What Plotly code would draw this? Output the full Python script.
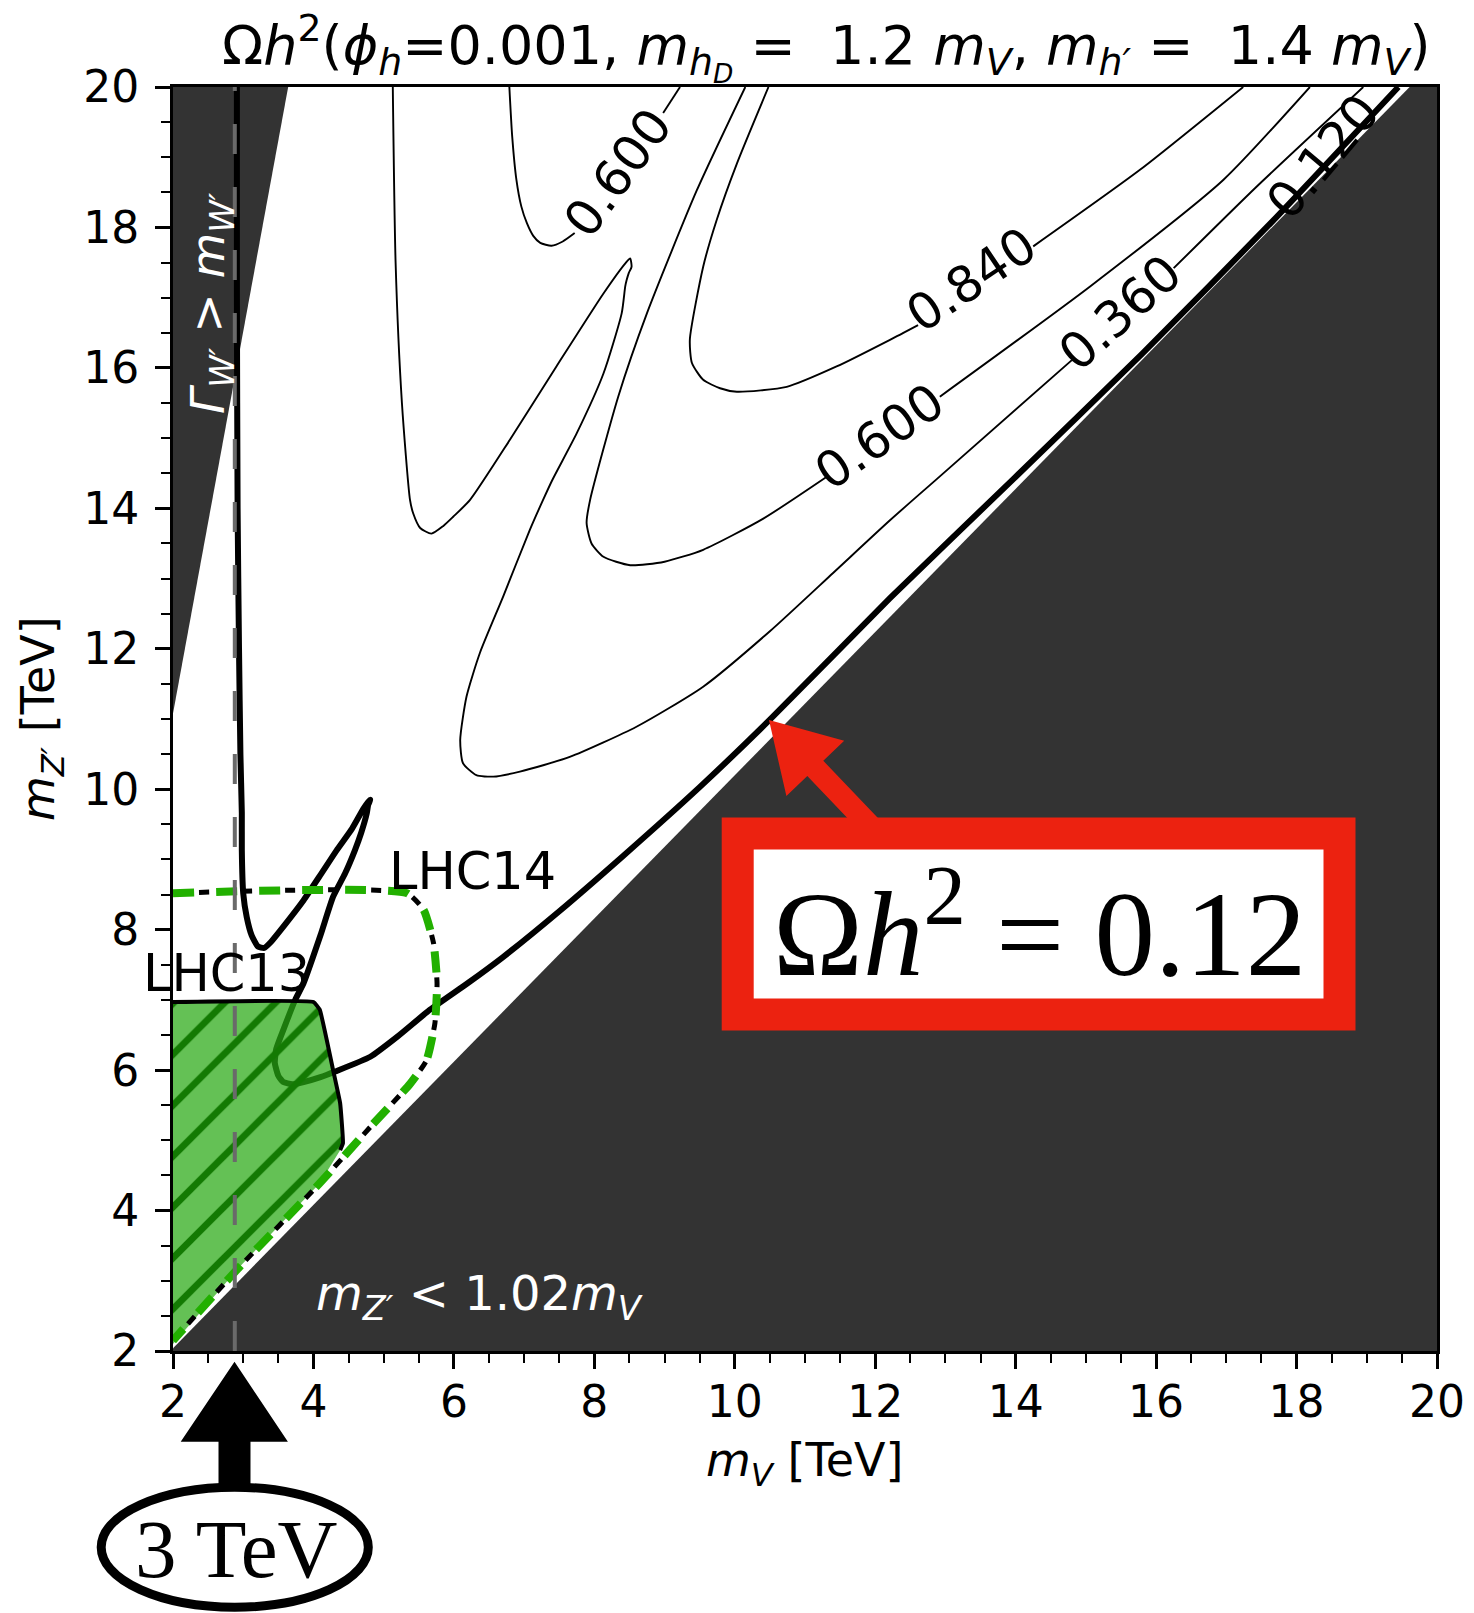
import plotly.graph_objects as go

# ---------------- data ----------------
x_ticks = [2, 4, 6, 8, 10, 12, 14, 16, 18, 20]
y_ticks = [2, 4, 6, 8, 10, 12, 14, 16, 18, 20]

# excluded regions
lower_x = [2.0, 19.61, 20.0, 20.0, 2.0]          # m_Z' < 1.02 m_V
lower_y = [2.04, 20.0, 20.0, 2.0, 2.0]
upper_x = [2.0, 3.64, 2.0]                       # Gamma_W' > m_W'
upper_y = [11.08, 20.0, 20.0]

# Omega h^2 = 0.36 contour
c036_x = [5.13, 5.17, 5.26, 5.375, 5.42, 5.52, 5.68, 5.85, 5.99, 6.23, 6.8, 7.46, 8.13, 8.45, 8.51,
          8.53, 8.49, 8.46, 8.44, 8.39, 8.13, 7.75, 7.4, 7.27, 7.08, 6.70, 6.37, 6.18, 6.09, 6.13,
          6.32, 6.56, 6.94, 7.65, 8.6, 9.55, 10.5, 11.4, 12.21, 12.88, 14.8, None, 16.25, 17.43, 18.95]
c036_y = [20.0, 17.5, 15.5, 14.12, 13.93, 13.72, 13.64, 13.75, 13.88, 14.12, 14.98, 16.02, 17.06, 17.5, 17.56,
          17.44, 17.35, 17.25, 17.16, 16.78, 15.92, 15.07, 14.4, 14.12, 13.69, 12.74, 11.94, 11.32, 10.7, 10.37,
          10.2, 10.18, 10.25, 10.46, 10.89, 11.46, 12.25, 13.08, 13.83, 14.42, 16.11, None, 17.42, 18.58, 20.0]

# Omega h^2 = 0.60 contour (upper island)
c060a_x = [6.79, 6.83, 6.89, 6.96, 7.04, 7.13, 7.23, 7.39, 7.55, 7.72, None, 8.98, 9.22]
c060a_y = [20.0, 19.3, 18.68, 18.3, 18.06, 17.88, 17.78, 17.74, 17.8, 17.92, None, 19.63, 20.0]

# Omega h^2 = 0.60 contour (lower)
c060b_x = [10.15, 9.46, 8.75, 8.34, 7.94, 7.89, 7.96, 8.13, 8.51, 9.0, 9.55, 10.4, 11.31, None, 12.92, 15.06, 16.96, 18.19]
c060b_y = [20.0, 18.53, 16.78, 15.59, 14.12, 13.79, 13.5, 13.31, 13.19, 13.24, 13.41, 13.85, 14.45, None, 15.59, 17.16, 18.68, 20.0]

# Omega h^2 = 0.84 contour
c084_x = [10.48, 10.03, 9.74, 9.55, 9.36, 9.39, 9.55, 9.79, 10.03, 10.74, 11.45, 12.21, 12.61, None, 14.25, 15.77, 17.24]
c084_y = [20.0, 18.91, 18.1, 17.44, 16.4, 16.07, 15.83, 15.71, 15.66, 15.73, 16.02, 16.4, 16.61, None, 17.73, 18.82, 20.0]

# Omega h^2 = 0.12 contour (thick)
c012_x = [2.91, 2.91, 2.92, 2.94, 2.96, 2.98, 2.98, 3.0, 3.05, 3.12, 3.21, 3.3, 3.38, 3.6, 3.86, 4.1, 4.33, 4.55,
          4.71, 4.78, 4.81, 4.78, 4.76, 4.68, 4.59, 4.45, 4.28, 4.1, 3.86, 3.74, 3.57, 3.47, 3.45, 3.5, 3.57, 3.7,
          3.86, 4.1, 4.31, 4.81, 5.2, 5.66, 6.2, 6.7, 7.51, 8.41, 9.5, 10.5, 12.21, 13.97, 15.8, 17.67, 19.45]
c012_y = [20.0, 17.0, 14.0, 12.0, 10.5, 9.66, 9.13, 8.52, 8.18, 7.92, 7.76, 7.74, 7.81, 8.08, 8.42, 8.78, 9.13, 9.44,
          9.72, 9.82, 9.85, 9.78, 9.66, 9.38, 9.13, 8.8, 8.47, 7.92, 7.24, 7.0, 6.57, 6.3, 6.1, 5.92, 5.83, 5.8,
          5.83, 5.9, 5.98, 6.19, 6.48, 6.86, 7.24, 7.61, 8.27, 9.05, 10.03, 10.99, 12.72, 14.42, 16.2, 18.1, 20.0]

# LHC13 excluded region and LHC14 reach
lhc13_x = [2.0, 4.0, 4.09, 4.28, 4.38, 4.42, 4.38, 4.09, 3.5, 2.95, 2.0]
lhc13_y = [6.97, 6.97, 6.86, 6.0, 5.53, 4.96, 4.86, 4.39, 3.78, 3.2, 2.1]
lhc13_edge_x = [2.0, 4.0, 4.09, 4.28, 4.38, 4.42, 4.38]
lhc13_edge_y = [6.97, 6.97, 6.86, 6.0, 5.53, 4.96, 4.86]
lhc14_x = [2.0, 5.33, 5.57, 5.71, 5.76, 5.73, 5.61, 5.38, 4.81, 4.09, 2.95, 2.0]
lhc14_y = [8.52, 8.52, 8.28, 7.81, 7.24, 6.67, 6.14, 5.81, 5.19, 4.39, 3.2, 2.15]

# 3 TeV reference line
ref_x = [2.88, 2.88]
ref_y = [2.0, 20.0]

# contour labels
lab_text = ["0.600", "0.840", "0.360", "0.600", "0.120"]
lab_x = [8.34, 13.37, 15.49, 12.06, 18.38]
lab_y = [18.77, 17.25, 16.78, 15.02, 19.0]
lab_ang = [-54, -34, -42, -35, -50]

# ---------------- figure ----------------
FONT = "DejaVu Sans"
SERIF = "Liberation Serif"
OFF = 8                      # page body margin of the browser
W, H = 1474 - OFF, 1613 - OFF
PL, PT, PW, PH = 173, 87, 1264, 1264      # plot area in reference pixels


def px(v):
    return (v - PL) / PW


def py(v):
    return (PT + PH - v) / PH


fig = go.Figure()
fig.add_trace(go.Scatter(x=lower_x, y=lower_y, fill="toself", fillcolor="#333333",
                         line=dict(width=0), mode="lines", hoverinfo="skip"))
fig.add_trace(go.Scatter(x=upper_x, y=upper_y, fill="toself", fillcolor="#333333",
                         line=dict(width=0), mode="lines", hoverinfo="skip"))
for cx, cy in [(c036_x, c036_y), (c060a_x, c060a_y), (c060b_x, c060b_y), (c084_x, c084_y)]:
    fig.add_trace(go.Scatter(x=cx, y=cy, mode="lines", connectgaps=False,
                             line=dict(color="black", width=1.9, shape="spline", smoothing=0.6)))
fig.add_trace(go.Scatter(x=c012_x, y=c012_y, mode="lines",
                         line=dict(color="black", width=6, shape="spline", smoothing=0.5)))
fig.add_trace(go.Scatter(x=lhc13_x, y=lhc13_y, fill="toself", mode="lines",
                         fillcolor="rgba(40,170,20,0.72)", line=dict(width=0),
                         fillpattern=dict(shape="/", size=36, solidity=0.19,
                                          fgcolor="#137a03", fgopacity=1,
                                          bgcolor="rgba(40,170,20,0.72)")))
fig.add_trace(go.Scatter(x=lhc13_edge_x, y=lhc13_edge_y, mode="lines",
                         line=dict(color="black", width=4, shape="spline", smoothing=0.3)))
fig.add_trace(go.Scatter(x=lhc14_x, y=lhc14_y, mode="lines",
                         line=dict(color="black", width=5, dash="0px,26px,10px,7px",
                                   shape="spline", smoothing=0.5)))
fig.add_trace(go.Scatter(x=lhc14_x, y=lhc14_y, mode="lines",
                         line=dict(color="#22b000", width=8, dash="21px,22px",
                                   shape="spline", smoothing=0.5)))
fig.add_trace(go.Scatter(x=ref_x, y=ref_y, mode="lines",
                         line=dict(color="#6a6a6a", width=4, dash="30px,33px")))

C = dict(xanchor="center", yanchor="middle", showarrow=False)
ann = []
for t, x, y, a in zip(lab_text, lab_x, lab_y, lab_ang):
    ann.append(dict(x=x, y=y, xref="x", yref="y", text=t, textangle=a,
                    font=dict(family=FONT, size=50, color="black"), **C))
ann += [
    dict(x=2.55, y=16.92, xref="x", yref="y", textangle=-90,
         text="<i>Γ<sub>W′</sub></i> > <i>m<sub>W′</sub></i>", font=dict(family=FONT, size=47, color="white"), **C),
    dict(x=6.37, y=2.78, xref="x", yref="y",
         text="<i>m<sub>Z′</sub></i> < 1.02<i>m<sub>V</sub></i>", font=dict(family=FONT, size=48, color="white"), **C),
    dict(x=2.76, y=7.37, xref="x", yref="y", text="LHC13",
         font=dict(family=FONT, size=51, color="black"), **C),
    dict(x=6.26, y=8.83, xref="x", yref="y", text="LHC14",
         font=dict(family=FONT, size=51, color="black"), **C),
    dict(x=px(826), y=py(47), xref="paper", yref="paper",
         text="Ω<i>h</i><sup>2</sup>(<i>ϕ<sub>h</sub></i>=0.001, <i>m<sub>h<sub>D</sub></sub></i> =  1.2 <i>m<sub>V</sub></i>, <i>m<sub>h′</sub></i> =  1.4 <i>m<sub>V</sub></i>)",
         font=dict(family=FONT, size=54, color="black"), **C),
    dict(x=px(804), y=py(1463), xref="paper", yref="paper",
         text="<i>m<sub>V</sub></i> [TeV]", font=dict(family=FONT, size=46, color="black"), **C),
    dict(x=px(41), y=py(719), xref="paper", yref="paper", textangle=-90,
         text="<i>m<sub>Z′</sub></i> [TeV]", font=dict(family=FONT, size=46, color="black"), **C),
    dict(x=px(1039), y=py(925), xref="paper", yref="paper",
         text="Ω<i>h</i><sup>2</sup> = 0.12", font=dict(family=SERIF, size=121, color="black"), **C),
    dict(x=px(236), y=py(1549), xref="paper", yref="paper",
         text="3 TeV", font=dict(family=SERIF, size=83, color="black"), **C),
]


def poly(pts):
    return "M " + " L ".join(f"{px(a):.5f},{py(b):.5f}" for a, b in pts) + " Z"


red = "#EC2210"
shapes = [
    dict(type="path", xref="paper", yref="paper", fillcolor=red, line=dict(width=0),
         path=poly([(769, 720), (844.2, 740.8), (823.3, 760.8), (883.2, 823.6), (867.2, 838.8),
                    (807.3, 776.0), (786.4, 796.0)])),
    dict(type="rect", xref="paper", yref="paper", x0=px(737.7), x1=px(1339.5), y0=py(1014.5), y1=py(833.6),
         line=dict(color=red, width=32), fillcolor="white"),
    dict(type="path", xref="paper", yref="paper", fillcolor="black", line=dict(width=0),
         path=poly([(234.5, 1361.7), (287.9, 1441.7), (250.5, 1441.7), (250.5, 1492), (218.5, 1492),
                    (218.5, 1441.7), (180.7, 1441.7)])),
    dict(type="circle", xref="paper", yref="paper", x0=px(101.2), x1=px(368.3), y0=py(1607.2), y1=py(1487.2),
         line=dict(color="black", width=9), fillcolor="white"),
]

axis_common = dict(range=[2, 20], showgrid=False, zeroline=False, showline=True, mirror=True,
                   linecolor="black", linewidth=3, ticks="outside", ticklen=15, tickwidth=3,
                   tickcolor="black", tickfont=dict(family=FONT, size=44, color="black"),
                   minor=dict(dtick=0.5, tick0=2, ticks="outside", ticklen=9, tickwidth=2,
                              tickcolor="black", showgrid=False))
fig.update_layout(
    width=W, height=H, showlegend=False, plot_bgcolor="white", paper_bgcolor="white",
    margin=dict(l=PL - OFF, r=W - (PL - OFF) - PW, t=PT - OFF, b=H - (PT - OFF) - PH, autoexpand=False),
    xaxis=dict(tickvals=x_ticks, ticktext=[str(v) for v in x_ticks], ticklabelstandoff=-5, **axis_common),
    yaxis=dict(tickvals=y_ticks, ticktext=[str(v) for v in y_ticks], ticklabelstandoff=7, **axis_common),
    annotations=ann, shapes=shapes,
)
fig.write_html("out.html")
